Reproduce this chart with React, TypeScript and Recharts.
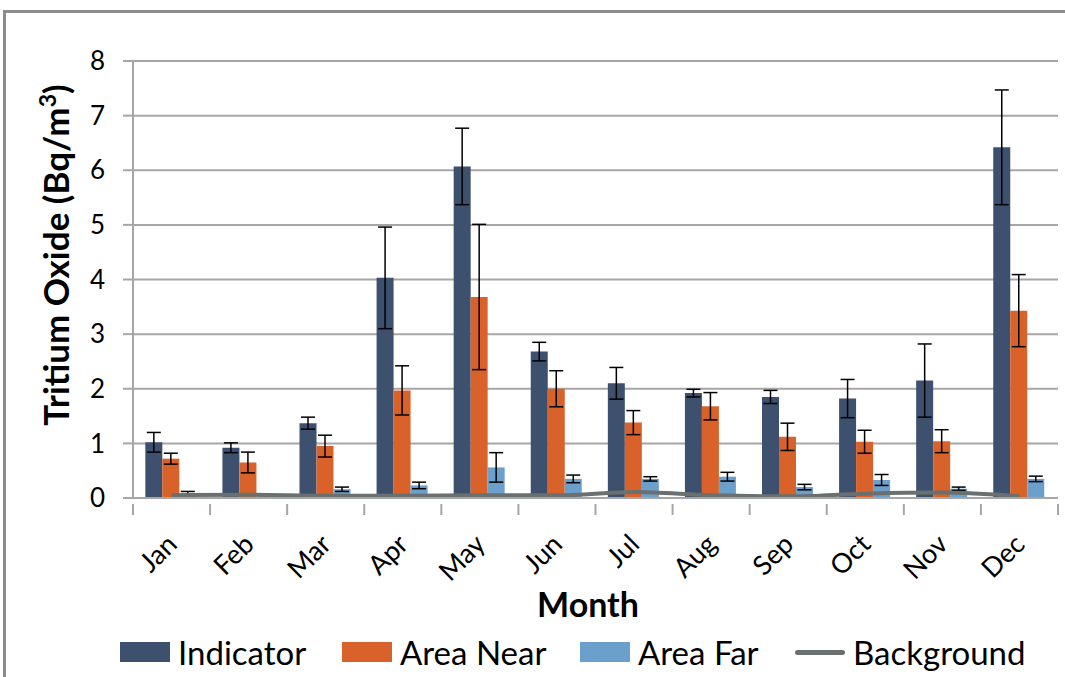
import {
  Bar,
  CartesianGrid,
  ComposedChart,
  ErrorBar,
  Line,
  XAxis,
  YAxis
} from "recharts";

const months = ["Jan", "Feb", "Mar", "Apr", "May", "Jun", "Jul", "Aug", "Sep", "Oct", "Nov", "Dec"];

const indicator = [1.02, 0.92, 1.37, 4.03, 6.07, 2.68, 2.1, 1.92, 1.85, 1.82, 2.15, 6.42];
const indicatorErr = [0.18, 0.09, 0.11, 0.93, 0.7, 0.17, 0.29, 0.07, 0.12, 0.35, 0.67, 1.05];

const areaNear = [0.72, 0.65, 0.95, 1.97, 3.68, 2.0, 1.38, 1.68, 1.12, 1.03, 1.04, 3.43];
const areaNearErr = [0.1, 0.19, 0.2, 0.45, 1.33, 0.33, 0.22, 0.25, 0.25, 0.21, 0.21, 0.66];

const areaFar = [0.06, 0.03, 0.16, 0.23, 0.56, 0.35, 0.35, 0.39, 0.2, 0.33, 0.17, 0.35];
const areaFarErr = [0.06, 0.02, 0.04, 0.06, 0.27, 0.07, 0.04, 0.08, 0.05, 0.1, 0.03, 0.05];

const background = [0.05, 0.06, 0.04, 0.04, 0.05, 0.05, 0.11, 0.05, 0.03, 0.08, 0.1, 0.03];

const yTicks = [0, 1, 2, 3, 4, 5, 6, 7, 8];

const data = months.map((m, i) => ({
  month: m,
  indicator: indicator[i],
  indicatorErr: indicatorErr[i],
  areaNear: areaNear[i],
  areaNearErr: areaNearErr[i],
  areaFar: areaFar[i],
  areaFarErr: areaFarErr[i],
  background: background[i]
}));

const W = 1065;
const H = 677;
const margin = { top: 61, right: 7, left: 73, bottom: 50 };
const plotW = W - margin.left - margin.right - 60;
const band = plotW / months.length;

const colors = {
  indicator: "#3d506e",
  areaNear: "#d9622b",
  areaFar: "#6b9fcc",
  background: "#6a706f",
  axis: "#a6a6a6"
};

const font = "Lato, 'Open Sans', sans-serif";

function MonthTick(props: any) {
  const { x, y, payload, index } = props;
  const left = x - band / 2;
  return (
    <g>
      <line x1={left} y1={y - 2} x2={left} y2={y + 9} stroke={colors.axis} strokeWidth={2} />
      {index === months.length - 1 && (
        <line x1={left + band} y1={y - 2} x2={left + band} y2={y + 9} stroke={colors.axis} strokeWidth={2} />
      )}
      <text
        x={x + 7}
        y={y + 40}
        textAnchor="end"
        transform={`rotate(-45 ${x + 7} ${y + 40})`}
        fontSize={27}
        fontFamily={font}
        fill="#000"
      >
        {payload.value}
      </text>
    </g>
  );
}

// legend entries; left edges follow the reference layout
const legendItems = [
  { label: "Indicator", color: colors.indicator, kind: "box", left: 120 },
  { label: "Area Near", color: colors.areaNear, kind: "box", left: 342 },
  { label: "Area Far", color: colors.areaFar, kind: "box", left: 580 },
  { label: "Background", color: colors.background, kind: "line", left: 795 }
];

export default function App() {
  return (
    <div style={{ width: W, height: H, position: "relative", overflow: "hidden", background: "#fff" }}>
      <style>{"body{margin:0}"}</style>
      <div
        style={{
          position: "absolute",
          left: 3,
          top: 10,
          width: W + 40,
          height: H + 40,
          borderTop: "3px solid #8c8c8c",
          borderLeft: "3px solid #8c8c8c"
        }}
      />
      <div style={{ position: "absolute", left: 0, top: 0 }}>
        <ComposedChart
          width={W}
          height={H}
          data={data}
          margin={margin}
          barCategoryGap="16%"
          barGap={0}
        >
          <CartesianGrid horizontal vertical={false} stroke={colors.axis} strokeWidth={2} />
          <XAxis
            dataKey="month"
            height={129}
            interval={0}
            tick={<MonthTick />}
            tickLine={false}
            axisLine={{ stroke: colors.axis, strokeWidth: 2 }}
            label={{
              content: ({ viewBox }: any) => (
                <text
                  x={588}
                  y={viewBox.y + 119}
                  textAnchor="middle"
                  fontSize={34}
                  fontWeight="bold"
                  fontFamily={font}
                  fill="#000"
                >
                  Month
                </text>
              )
            }}
          />
          <YAxis
            width={60}
            domain={[0, 8]}
            ticks={yTicks}
            tickSize={10}
            tickMargin={18}
            tickLine={{ stroke: colors.axis, strokeWidth: 2 }}
            axisLine={{ stroke: colors.axis, strokeWidth: 2 }}
            tick={{ fill: "#000", fontSize: 26, fontFamily: font }}
            label={{
              content: () => (
                <text
                  x={69}
                  y={255}
                  textAnchor="middle"
                  transform="rotate(-90 69 255)"
                  fontSize={35}
                  fontWeight="bold"
                  fontFamily={font}
                  fill="#000"
                >
                  Tritium Oxide (Bq/m<tspan dy={-13} fontSize={23}>3</tspan>
                  <tspan dy={13}>)</tspan>
                </text>
              )
            }}
          />
          <Bar dataKey="indicator" fill={colors.indicator} isAnimationActive={false}>
            <ErrorBar dataKey="indicatorErr" width={7} stroke="#000" strokeWidth={1.5} isAnimationActive={false} />
          </Bar>
          <Bar dataKey="areaNear" fill={colors.areaNear} isAnimationActive={false}>
            <ErrorBar dataKey="areaNearErr" width={7} stroke="#000" strokeWidth={1.5} isAnimationActive={false} />
          </Bar>
          <Bar dataKey="areaFar" fill={colors.areaFar} isAnimationActive={false}>
            <ErrorBar dataKey="areaFarErr" width={7} stroke="#000" strokeWidth={1.5} isAnimationActive={false} />
          </Bar>
          <Line
            type="monotone"
            dataKey="background"
            stroke={colors.background}
            strokeWidth={4}
            dot={false}
            activeDot={false}
            isAnimationActive={false}
          />
        </ComposedChart>
      </div>
      {legendItems.map((it) => (
        <div
          key={it.label}
          style={{
            position: "absolute",
            left: it.left,
            top: 631,
            height: 42,
            display: "flex",
            alignItems: "center",
            fontFamily: font,
            fontSize: 33,
            lineHeight: "42px",
            color: "#000"
          }}
        >
          {it.kind === "box" ? (
            <div style={{ width: 50, height: 20, background: it.color }} />
          ) : (
            <div style={{ width: 50, height: 5, background: it.color, borderRadius: 3 }} />
          )}
          <span style={{ marginLeft: 8 }}>{it.label}</span>
        </div>
      ))}
    </div>
  );
}
